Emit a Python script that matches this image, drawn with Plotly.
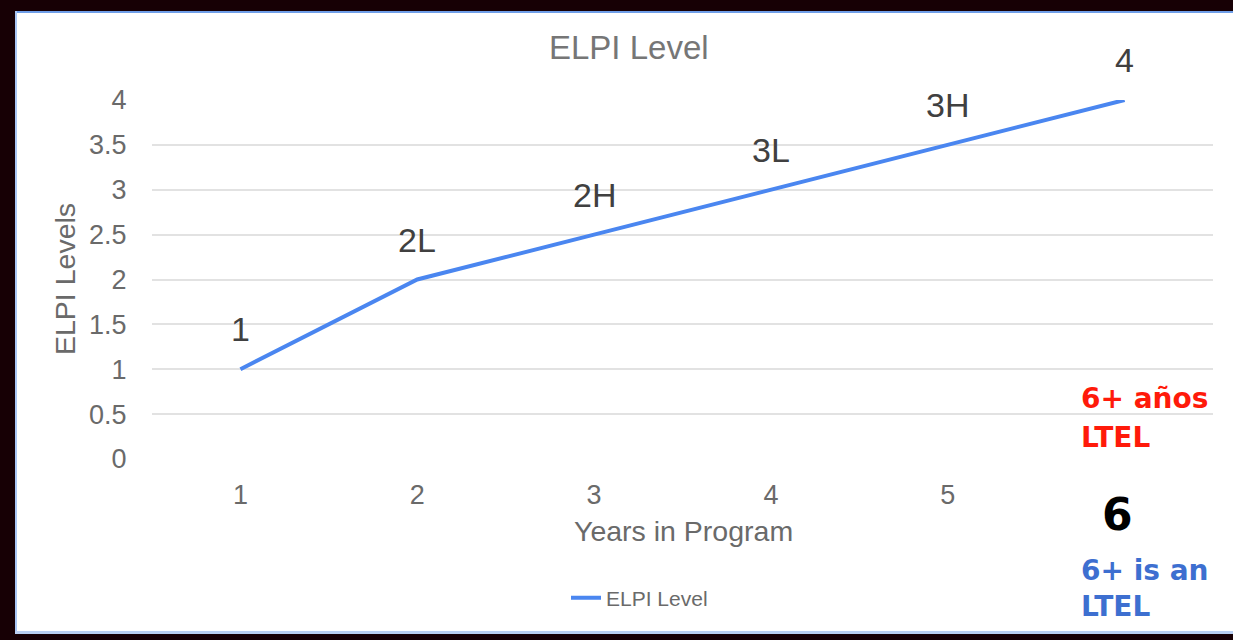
import plotly.graph_objects as go

# ---- data ----
years = [1, 2, 3, 4, 5, 6]
elpi_levels = [1, 2, 2.5, 3, 3.5, 4]
point_labels = ["1", "2L", "2H", "3L", "3H", "4"]
x_tick_labels = ["1", "2", "3", "4", "5", ""]
y_ticks = [0, 0.5, 1, 1.5, 2, 2.5, 3, 3.5, 4]
y_tick_labels = ["0", "0.5", "1", "1.5", "2", "2.5", "3", "3.5", "4"]

W, H = 1233, 640
L, R, T, B = 152, 1213, 100, 459


def px(x):
    return (x - L) / (R - L)


def py(y):
    return (B - y) / (B - T)


fig = go.Figure()
fig.add_trace(go.Scatter(
    x=years, y=elpi_levels, mode="lines", name="ELPI Level",
    line=dict(color="#4a86f0", width=4),
))

annotations = []
for xv, yv, lab in zip(years, elpi_levels, point_labels):
    annotations.append(dict(
        x=xv, y=yv, xref="x", yref="y", text=lab, showarrow=False,
        yshift=40, font=dict(size=34, color="#404040", family="Liberation Sans"),
    ))


def text_ann(x, y, text, size, color, bold=False, family="Liberation Sans", xanchor="center", angle=0):
    annotations.append(dict(
        x=px(x), y=py(y), xref="paper", yref="paper", text=f"<b>{text}</b>" if bold else text,
        showarrow=False, xanchor=xanchor, yanchor="middle", textangle=angle,
        font=dict(size=size, color=color, family=family),
    ))


text_ann(629, 48, "ELPI Level", 33, "#767676")
text_ann(683, 531, "Years in Program", 28.5, "#6a6a6a")
text_ann(65, 279, "ELPI Levels", 28.5, "#6a6a6a", angle=-90)
text_ann(1079, 398, "6+ años", 28, "#ff1a0a", bold=True, family="DejaVu Sans", xanchor="left")
text_ann(1079, 437, "LTEL", 28, "#ff1a0a", bold=True, family="DejaVu Sans", xanchor="left")
text_ann(1117, 514, "6", 44, "#000000", bold=True, family="DejaVu Sans")
text_ann(1079, 570, "6+ is an", 28, "#3d6fd0", bold=True, family="DejaVu Sans", xanchor="left")
text_ann(1079, 606, "LTEL", 28, "#3d6fd0", bold=True, family="DejaVu Sans", xanchor="left")

shapes = [
    # white strip on the right edge (no frame there)
    dict(type="rect", xref="paper", yref="paper", x0=px(1224), x1=px(W + 2), y0=py(13), y1=py(631),
         fillcolor="white", line=dict(width=0), layer="above"),
    # black frame
    dict(type="rect", xref="paper", yref="paper", x0=px(0), x1=px(W + 2), y0=py(-2), y1=py(11),
         fillcolor="#170005", line=dict(width=0), layer="above"),
    dict(type="rect", xref="paper", yref="paper", x0=px(-2), x1=px(15), y0=py(-2), y1=py(H + 2),
         fillcolor="#170005", line=dict(width=0), layer="above"),
    dict(type="rect", xref="paper", yref="paper", x0=px(0), x1=px(W + 2), y0=py(634), y1=py(H + 2),
         fillcolor="#170005", line=dict(width=0), layer="above"),
    # thin blue inner lines
    dict(type="rect", xref="paper", yref="paper", x0=px(15), x1=px(W + 2), y0=py(11), y1=py(13),
         fillcolor="#6f9ee8", line=dict(width=0), layer="above"),
    dict(type="rect", xref="paper", yref="paper", x0=px(15), x1=px(17), y0=py(11), y1=py(634),
         fillcolor="#a9c6f5", line=dict(width=0), layer="above"),
    dict(type="rect", xref="paper", yref="paper", x0=px(15), x1=px(W + 2), y0=py(631), y1=py(634),
         fillcolor="#b9cff2", line=dict(width=0), layer="above"),
]

fig.update_layout(
    width=W, height=H,
    margin=dict(l=L, r=W - R, t=T, b=H - B),
    paper_bgcolor="white", plot_bgcolor="white",
    showlegend=True,
    legend=dict(orientation="h", x=px(566), y=py(598), xanchor="left", yanchor="middle",
                font=dict(size=21, color="#6a6a6a", family="Liberation Sans"),
                itemwidth=30, bgcolor="rgba(0,0,0,0)"),
    annotations=annotations,
    shapes=shapes,
    font=dict(family="Liberation Sans"),
)
fig.update_xaxes(
    range=[0.5, 6.5], tickvals=years, ticktext=x_tick_labels,
    showgrid=False, zeroline=False, showline=False,
    ticks="outside", ticklen=12, tickcolor="rgba(0,0,0,0)",
    tickfont=dict(size=27, color="#6a6a6a"),
)
fig.update_yaxes(
    range=[0, 4], tickvals=y_ticks, ticktext=y_tick_labels,
    showgrid=True, gridcolor="#e2e2e2", gridwidth=1.5, zeroline=False, showline=False,
    ticks="outside", ticklen=19, tickcolor="rgba(0,0,0,0)",
    tickfont=dict(size=27, color="#6a6a6a"),
)

fig.write_html(
    "out.html",
    config={"displayModeBar": False},
    post_script="document.body.style.margin='0';document.body.style.overflow='hidden';",
)
